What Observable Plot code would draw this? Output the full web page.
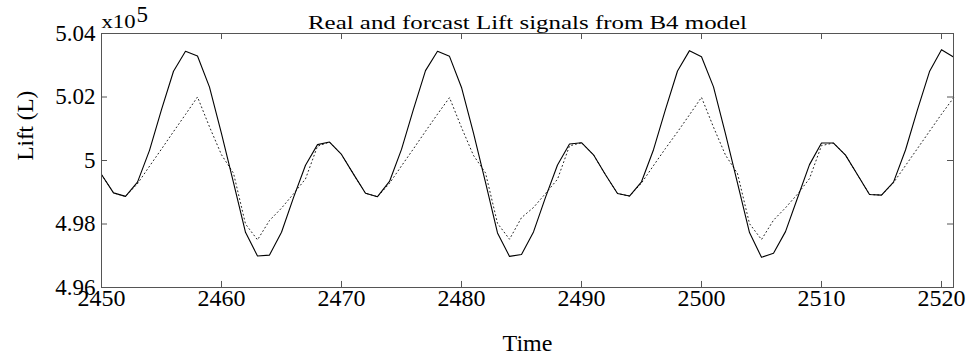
<!DOCTYPE html>
<html>
<head>
<meta charset="utf-8">
<script src="https://cdn.jsdelivr.net/npm/d3@7"></script>
<script src="https://cdn.jsdelivr.net/npm/@observablehq/plot@0.6"></script>
<style>
  html, body { margin: 0; padding: 0; background: #fff; }
  #chart { width: 969px; height: 354px; }
</style>
</head>
<body>
<div id="chart"></div>
<script>
// ---- data ----
const time = [
  2450, 2451, 2452, 2453, 2454, 2455, 2456, 2457, 2458, 2459, 2460, 2461, 2462, 2463, 2464, 2465, 2466, 2467, 2468, 2469, 2470,
  2471, 2472, 2473, 2474, 2475, 2476, 2477, 2478, 2479, 2480, 2481, 2482, 2483, 2484, 2485, 2486, 2487, 2488, 2489, 2490, 2491,
  2492, 2493, 2494, 2495, 2496, 2497, 2498, 2499, 2500, 2501, 2502, 2503, 2504, 2505, 2506, 2507, 2508, 2509, 2510, 2511, 2512,
  2513, 2514, 2515, 2516, 2517, 2518, 2519, 2520, 2521
];
const realLift = [
  4.9956, 4.9898, 4.9887, 4.9932, 5.0032, 5.0160, 5.0281, 5.0344, 5.0329, 5.0231, 5.0085, 4.9930, 4.9774, 4.9699, 4.9702, 4.9774, 4.9883, 4.9985, 5.0050, 5.0058, 5.0019,
  4.9957, 4.9897, 4.9886, 4.9934, 5.0035, 5.0162, 5.0283, 5.0344, 5.0328, 5.0230, 5.0086, 4.9931, 4.9772, 4.9698, 4.9704, 4.9775, 4.9884, 4.9986, 5.0052, 5.0056, 5.0018,
  4.9955, 4.9896, 4.9888, 4.9933, 5.0034, 5.0161, 5.0282, 5.0346, 5.0327, 5.0232, 5.0084, 4.9929, 4.9773, 4.9695, 4.9708, 4.9776, 4.9882, 4.9987, 5.0055, 5.0055, 5.0017,
  4.9955, 4.9893, 4.9891, 4.9932, 5.0033, 5.0160, 5.0280, 5.0349, 5.0326
];
const forecastLift = [
  4.9956, 4.9898, 4.9887, 4.9927, 4.9982, 5.0036, 5.0091, 5.0145, 5.0200, 5.0106, 5.0018, 4.9960, 4.9800, 4.9750, 4.9811, 4.9850, 4.9895, 4.9942, 5.0045, 5.0058, 5.0019,
  4.9957, 4.9897, 4.9886, 4.9928, 4.9983, 5.0037, 5.0092, 5.0146, 5.0198, 5.0104, 5.0016, 4.9961, 4.9802, 4.9752, 4.9820, 4.9852, 4.9896, 4.9941, 5.0046, 5.0056, 5.0018,
  4.9955, 4.9896, 4.9888, 4.9929, 4.9984, 5.0038, 5.0090, 5.0144, 5.0199, 5.0105, 5.0017, 4.9959, 4.9801, 4.9751, 4.9812, 4.9851, 4.9894, 4.9943, 5.0047, 5.0055, 5.0017,
  4.9955, 4.9893, 4.9891, 4.9930, 4.9984, 5.0038, 5.0092, 5.0146, 5.0197
];
const xTicks = [2450, 2460, 2470, 2480, 2490, 2500, 2510, 2520];
const xTickLabels = ["2450", "2460", "2470", "2480", "2490", "2500", "2510", "2520"];
const yTicks = [4.96, 4.98, 5, 5.02, 5.04];
const yTickLabels = ["4.96", "4.98", "5", "5.02", "5.04"];
const xDomain = [2450, 2521];
const yDomain = [4.96, 5.04];
const titleText = "Real and forcast Lift signals from B4 model";
const xLabel = "Time";
const yLabel = "Lift (L)";
const expBase = "x10";
const expPow = "5";

// ---- build ----
const rows = time.map((t, i) => ({t, real: realLift[i], forecast: forecastLift[i]}));
const serif = "'Liberation Serif', 'Times New Roman', Times, serif";
const tickLenY = 0.0019; // inward tick length in y units
const tickLenX = 0.5;    // inward tick length in x units
const frameColor = "#555";

const chart = Plot.plot({
  width: 969,
  height: 354,
  marginLeft: 101,
  marginRight: 16,
  marginTop: 33,
  marginBottom: 67,
  style: {fontFamily: serif, fontSize: "24px", background: "#fff", color: "#000", overflow: "visible"},
  x: {domain: xDomain, ticks: xTicks, tickSize: 0, tickPadding: 1,
      tickFormat: d => xTickLabels[xTicks.indexOf(d)], label: null},
  y: {domain: yDomain, ticks: yTicks, tickSize: 0, tickPadding: 6,
      tickFormat: d => yTickLabels[yTicks.indexOf(d)], label: null},
  marks: [
    // inward ticks (bottom / top)
    Plot.ruleX(xTicks, {x: d => d, y1: yDomain[0], y2: yDomain[0] + tickLenY, stroke: frameColor}),
    Plot.ruleX(xTicks, {x: d => d, y1: yDomain[1], y2: yDomain[1] - tickLenY, stroke: frameColor}),
    // inward ticks (left / right)
    Plot.ruleY(yTicks, {y: d => d, x1: xDomain[0], x2: xDomain[0] + tickLenX, stroke: frameColor}),
    Plot.ruleY(yTicks, {y: d => d, x1: xDomain[1], x2: xDomain[1] - tickLenX, stroke: frameColor}),
    // forecast (dotted) then real (solid)
    Plot.line(rows, {x: "t", y: "forecast", stroke: "#222", strokeWidth: 1, strokeDasharray: "1,3"}),
    Plot.line(rows, {x: "t", y: "real", stroke: "#000", strokeWidth: 1.1}),
    Plot.frame({stroke: frameColor, strokeWidth: 1}),
    // title
    Plot.text([titleText], {text: d => d, frameAnchor: "top", lineAnchor: "bottom", dy: -5,
      fontSize: 19, fill: "#000"}),
    // exponent label
    Plot.text([expBase], {text: d => d, frameAnchor: "top-left", textAnchor: "start", lineAnchor: "bottom",
      dy: -6, fontSize: 19, fill: "#000"}),
    Plot.text([expPow], {text: d => d, frameAnchor: "top-left", textAnchor: "start", lineAnchor: "bottom",
      dx: 35, dy: -12, fontSize: 14, fill: "#000"}),
    // axis labels
    Plot.text([xLabel], {text: d => d, frameAnchor: "bottom", lineAnchor: "bottom", dy: 63,
      fontSize: 24, fill: "#000"}),
    Plot.text([yLabel], {text: d => d, frameAnchor: "left", lineAnchor: "bottom", rotate: -90,
      dx: -69, fontSize: 23, fill: "#000"})
  ]
});

document.getElementById("chart").appendChild(chart);

// stretch title / exponent base to the reference's wide type
const allText = d3.select(chart).selectAll("text");
allText.filter(function () { return this.textContent === titleText; })
  .attr("textLength", 439).attr("lengthAdjust", "spacingAndGlyphs");
allText.filter(function () { return this.textContent === expBase; })
  .attr("textLength", 34).attr("lengthAdjust", "spacingAndGlyphs");
// y tick labels slightly smaller than x tick labels
allText.filter(function () { return yTickLabels.includes(this.textContent); })
  .style("font-size", "23px");
</script>
</body>
</html>
